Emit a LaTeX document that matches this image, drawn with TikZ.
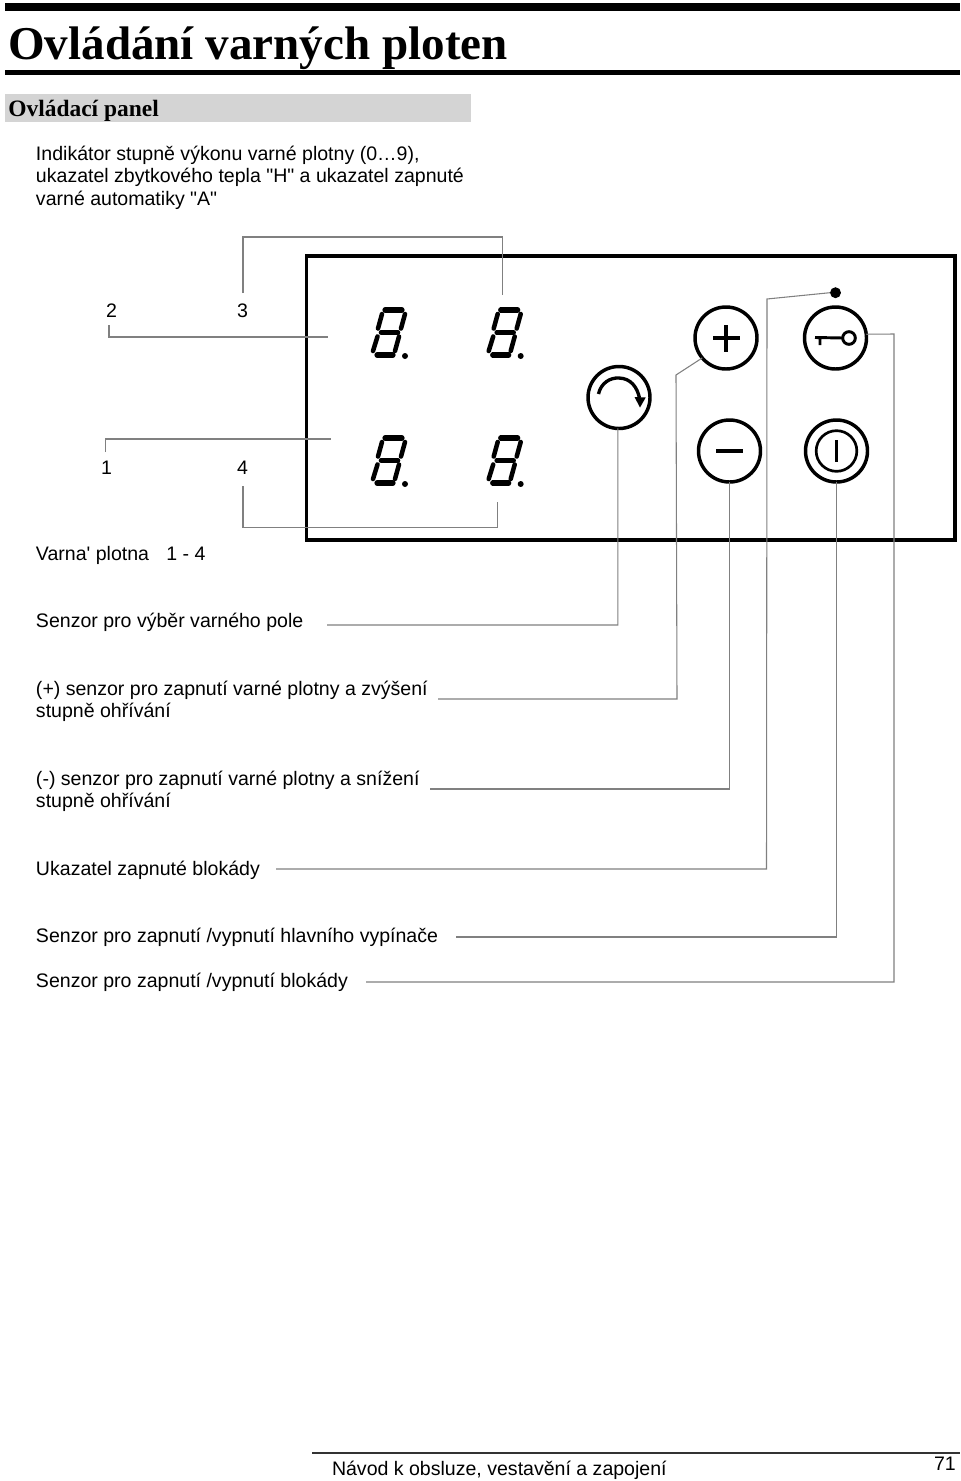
\documentclass[tikz,border=0pt]{standalone}
\usepackage{fontspec}
\newfontfamily\plainsans{Liberation Sans}
\newfontfamily\serifbf{Liberation Serif}[BoldFont={Liberation Serif Bold}]
\usetikzlibrary{arrows.meta}
\definecolor{leadgrey}{gray}{0.5}
\definecolor{bandgrey}{gray}{0.83}
\tikzset{
  x=0.75pt,y=-0.75pt,
  leader/.style={draw=leadgrey,line width=0.8pt,line join=miter},
  body/.style={inner sep=0pt,outer sep=0pt,anchor=base west,align=left,font=\plainsans\fontsize{14.66}{17}\selectfont},
  knob/.style={circle,draw=black,line width=2.6pt,minimum size=46.5pt,inner sep=0pt,outer sep=0pt,fill=none},
  glyph/.style={draw=black,line width=2.6pt},
  segm/.style={draw=black,line width=3.9pt,line cap=round},
  segn/.style={draw=black,line width=3.4pt,line cap=round},
  digitpic/.pic={
    \draw[segm] (14,3)--(31,3);
    \draw[segn] (10,25.5)--(27,25.5);
    \draw[segm] (6,48)--(22,48);
    \draw[segn] (11,7)--(7,21.5);
    \draw[segn] (34,7)--(30,21.5);
    \draw[segn] (6.5,29.5)--(2,44);
    \draw[segn] (28,29.5)--(24,44);
    \fill[black] (34,49) circle[radius=3];
  }
}
\begin{document}
\begin{tikzpicture}
\useasboundingbox (0,0) rectangle (960,1481);
\fill[black] (5,3) rectangle (960,11);
\fill[black] (5,70) rectangle (960,75);
\fill[bandgrey] (5,94) rectangle (471,122);
\node[inner sep=0pt,anchor=base west] (title) at (8,59) {\serifbf\bfseries\fontsize{35.3}{40}\selectfont Ovládání varných ploten};
\node[inner sep=0pt,anchor=base west] (sect) at (8,116.5) {\serifbf\bfseries\fontsize{17.6}{20}\selectfont Ovládací panel};
\node[body] (intro1) at (36,160) {Indikátor stupně výkonu varné plotny (0…9),};
\node[body] (intro2) at (36,182) {ukazatel zbytkového tepla "H" a ukazatel zapnuté};
\node[body] (intro3) at (36,205) {varné automatiky "A"};
\node[body] (n2) at (106,317) {2};
\node[body] (n3) at (237,317) {3};
\node[body] (n1) at (101,474) {1};
\node[body] (n4) at (237,474) {4};
\node[body] (plate) at (36,560) {Varna' plotna\hspace{12.9pt}1 - 4};
\node[body] (lsel) at (36,627) {Senzor pro výběr varného pole};
\node[body] (lplusa) at (36,695) {(+) senzor pro zapnutí varné plotny a zvýšení};
\node[body] (lplusb) at (36,717) {stupně ohřívání};
\node[body] (lminusa) at (36,785) {(-) senzor pro zapnutí varné plotny a snížení};
\node[body] (lminusb) at (36,807) {stupně ohřívání};
\node[body] (llock) at (36,875) {Ukazatel zapnuté blokády};
\node[body] (lpow) at (36,942) {Senzor pro zapnutí /vypnutí hlavního vypínače};
\node[body] (lkey) at (36,987) {Senzor pro zapnutí /vypnutí blokády};
% panel
\node[draw=black,line width=2.6pt,inner sep=0pt,outer sep=0pt,minimum width=648.5*0.75pt,minimum height=284*0.75pt,anchor=north west] (panel) at (306.5,256) {};
% digits
\pic at (371,307) {digitpic};
\pic at (486.7,307) {digitpic};
\pic at (371,435) {digitpic};
\pic at (486.7,435) {digitpic};
% knobs
\node[knob] (rot) at (619,397.5) {};
\node[knob] (plus) at (726,338) {};
\node[knob] (minus) at (729.5,451) {};
\node[knob] (key) at (835.5,338) {};
\node[knob] (pow) at (836.5,451) {};
\node[circle,draw=black,line width=2pt,minimum size=30.5pt,inner sep=0pt,outer sep=0pt] (powin) at (836.5,451) {};
\node[circle,fill=black,minimum size=8.2pt,inner sep=0pt,outer sep=0pt] (ind) at (835.5,292.7) {};
\node[circle,draw=black,line width=2.2pt,minimum size=9.5pt,inner sep=0pt,outer sep=0pt] (keyhead) at (849,338) {};
% glyphs
\draw[glyph] (713,338)--(740,338) (726,325)--(726,352);
\draw[glyph] (716,451)--(743,451);
\draw[glyph] (836.5,440)--(836.5,462);
\draw[draw=black,line width=2.2pt] (keyhead.west)--(815,337.5) (820,337.5)--(820,345);
\draw[draw=black,line width=2.5pt] (598.5,394) .. controls (601,383) and (610,377.5) .. (619,378) .. controls (631,378.5) and (637,387) .. (639.5,398);
\fill[black] (634.5,397) -- (645.7,397.5) -- (640,407.5) -- cycle;
% leaders
\coordinate (a3) at (243,293); \coordinate (b3) at (502.5,295);
\draw[leader] (a3)--(243,237)--(502.5,237)--(b3);
\coordinate (a2) at (109,325); \coordinate (b2) at (328,337);
\draw[leader] (a2)--(109,337)--(b2);
\coordinate (a1) at (105.5,452); \coordinate (b1) at (331,439);
\draw[leader] (a1)--(105.5,439)--(b1);
\coordinate (a4) at (243,486); \coordinate (b4) at (497.5,502);
\draw[leader] (a4)--(243,527.5)--(497.5,527.5)--(b4);
\coordinate (esel) at (327,625);
\draw[leader] (rot.268)--(617.8,625)--(esel);
\coordinate (eplus) at (438,699);
\draw[leader] (plus.220)--(676,375)--(677,699)--(eplus);
\coordinate (eminus) at (430,789);
\draw[leader] (minus.south)--(729.5,789)--(eminus);
\coordinate (elock) at (276,869);
\draw[leader] (ind.west)--(767,299)--(766.5,869)--(elock);
\coordinate (epow) at (456,937);
\draw[leader] (pow.south)--(836.5,937)--(epow);
\coordinate (ekey) at (366,982);
\draw[leader] (key.7)--(894,334)--(894,982)--(ekey);
% footer
\fill[leadgrey!40!black] (312,1452) rectangle (960,1454);
\node[body] (foot) at (332,1475) {Návod k obsluze, vestavění a zapojení};
\node[body] (pageno) at (934,1470) {71};
\end{tikzpicture}
\end{document}
